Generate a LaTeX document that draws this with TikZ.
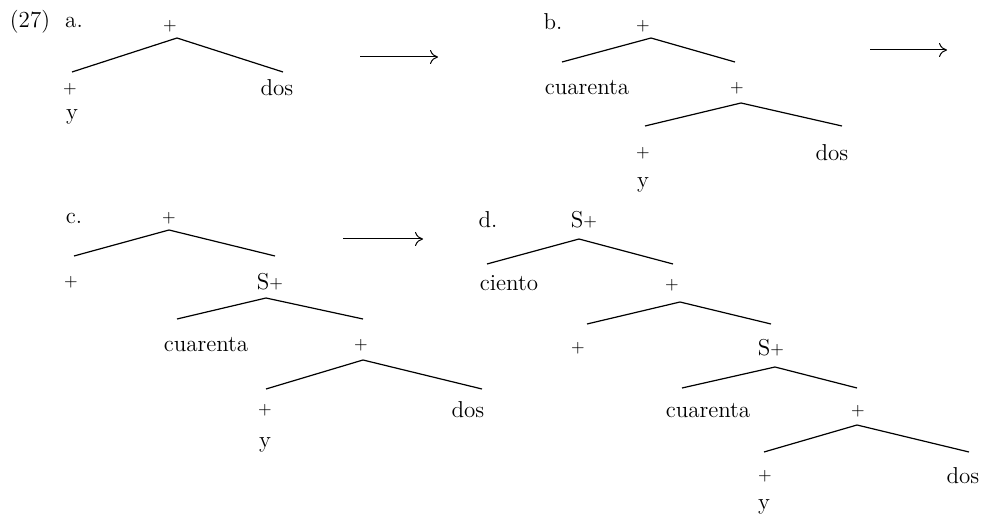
\documentclass[tikz,border=0pt]{standalone}
\usepackage{amsmath}
\usetikzlibrary{arrows.meta}

\newcommand{\pls}{\raisebox{0.15ex}{\fontsize{8.5}{9}\selectfont+}}

\begin{document}
\begin{tikzpicture}[x=0.5pt, y=-0.5pt, font=\fontsize{11.5}{13}\selectfont,
  every node/.style={inner sep=0pt},
  branch/.style={line width=0.6pt},
  derive/.style={line width=0.5pt, -{To[length=4pt, width=7pt]}}]
\useasboundingbox (0,0) rectangle (997,518);

% (27a)
\node (ex) at (30,22) {(27)};
\node (la) at (74,22) {a.};
\node (aT) at (170,26) {\pls};
\node (aL) at (70,89) {\pls};
\node (aR) at (277,88) {dos};
\node (aY) at (72,117) {y};
\coordinate (aTop) at (177,38);
\coordinate (aLe) at (72,72);
\coordinate (aRe) at (283,72);
\draw[branch] (aLe) -- (aTop) -- (aRe);

% (27b)
\node (lb) at (553,22) {b.};
\node (bT) at (643,26) {\pls};
\node (bL) at (587,88) {cuarenta};
\node (bR) at (737,88) {\pls};
\node (bRL) at (643,153) {\pls};
\node (bRR) at (832,153) {dos};
\node (bY) at (643,185) {y};
\coordinate (bTop) at (651,38);
\coordinate (bLe) at (562,62);
\coordinate (bRe) at (735,62);
\coordinate (bTop2) at (741,103);
\coordinate (bLe2) at (645,126);
\coordinate (bRe2) at (842,126);
\draw[branch] (bLe) -- (bTop) -- (bRe);
\draw[branch] (bLe2) -- (bTop2) -- (bRe2);

% (27c)
\node (lc) at (74,218) {c.};
\node (cT) at (169,218) {\pls};
\node (cL) at (71,282) {\pls};
\node (cR) at (270,282) {S\pls};
\node (cRL) at (206,345) {cuarenta};
\node (cRR) at (361,345) {\pls};
\node (cRRL) at (265,410) {\pls};
\node (cRRR) at (468,410) {dos};
\node (cY) at (265,445) {y};
\coordinate (cTop) at (169,230);
\coordinate (cLe) at (74,256);
\coordinate (cRe) at (275,256);
\coordinate (cTop2) at (266,298);
\coordinate (cLe2) at (177,319);
\coordinate (cRe2) at (363,319);
\coordinate (cTop3) at (363,360);
\coordinate (cLe3) at (266,389);
\coordinate (cRe3) at (482,389);
\draw[branch] (cLe) -- (cTop) -- (cRe);
\draw[branch] (cLe2) -- (cTop2) -- (cRe2);
\draw[branch] (cLe3) -- (cTop3) -- (cRe3);

% (27d)
\node (ld) at (488,220) {d.};
\node (dT) at (584,220) {S\pls};
\node (dL) at (509,283) {ciento};
\node (dR) at (672,285) {\pls};
\node (dRL) at (578,348) {\pls};
\node (dRR) at (771,348) {S\pls};
\node (dRRL) at (708,411) {cuarenta};
\node (dRRR) at (858,411) {\pls};
\node (dRRRL) at (765,476) {\pls};
\node (dRRRR) at (963,476) {dos};
\node (dY) at (764,507) {y};
\coordinate (dTop) at (579,239);
\coordinate (dLe) at (487,264);
\coordinate (dRe) at (673,264);
\coordinate (dTop2) at (680,302);
\coordinate (dLe2) at (587,324);
\coordinate (dRe2) at (771,324);
\coordinate (dTop3) at (775,367);
\coordinate (dLe3) at (682,388);
\coordinate (dRe3) at (857,388);
\coordinate (dTop4) at (857,425);
\coordinate (dLe4) at (764,452);
\coordinate (dRe4) at (969,452);
\draw[branch] (dLe) -- (dTop) -- (dRe);
\draw[branch] (dLe2) -- (dTop2) -- (dRe2);
\draw[branch] (dLe3) -- (dTop3) -- (dRe3);
\draw[branch] (dLe4) -- (dTop4) -- (dRe4);

% derivation arrows
\coordinate (ab1) at (360,57);
\coordinate (ab2) at (438,57);
\coordinate (bc1) at (870,50);
\coordinate (bc2) at (947,50);
\coordinate (cd1) at (343,239);
\coordinate (cd2) at (423,239);
\draw[derive] (ab1) -- (ab2);
\draw[derive] (bc1) -- (bc2);
\draw[derive] (cd1) -- (cd2);
\end{tikzpicture}
\end{document}
